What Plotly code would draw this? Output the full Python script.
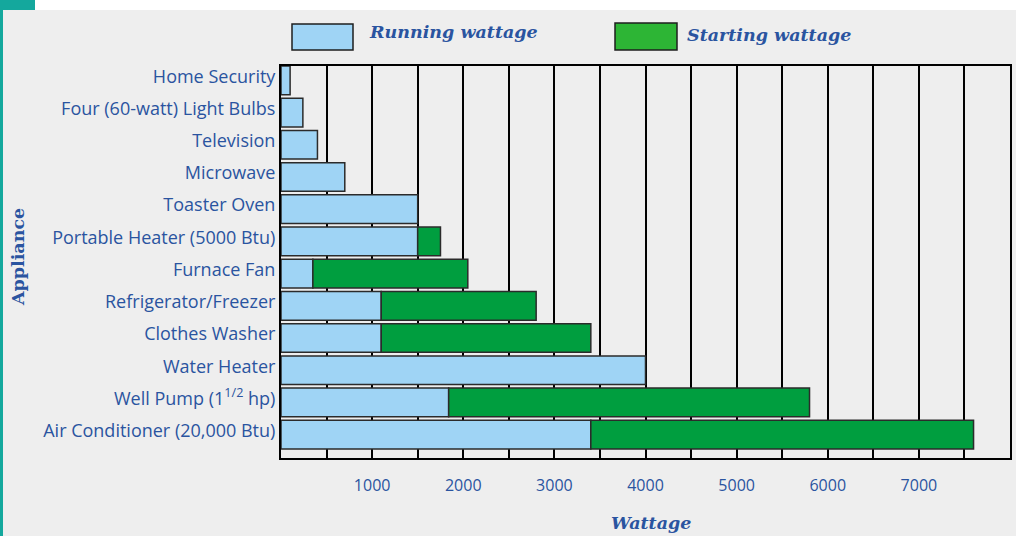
import plotly.graph_objects as go

# ---- data ----
appliances = [
    "Air Conditioner (20,000 Btu)",
    "Well Pump (1<sup>1/2</sup> hp)",
    "Water Heater",
    "Clothes Washer",
    "Refrigerator/Freezer",
    "Furnace Fan",
    "Portable Heater (5000 Btu)",
    "Toaster Oven",
    "Microwave",
    "Television",
    "Four (60-watt) Light Bulbs",
    "Home Security",
]
running_watts = [3400, 1840, 4000, 1100, 1100, 350, 1500, 1500, 700, 400, 240, 100]
starting_watts = [7600, 5800, 4000, 3400, 2800, 2050, 1750, 1500, 700, 400, 240, 100]
x_tick_values = [1000, 2000, 3000, 4000, 5000, 6000, 7000]
x_tick_labels = ["1000", "2000", "3000", "4000", "5000", "6000", "7000"]
grid_step = 500

# ---- geometry helpers (pixel -> paper) ----
W, H = 1024, 536
L, R, T, B = 281, 1010, 66, 458


def px(x):
    return (x - L) / (R - L)


def py(y):
    return (B - y) / (B - T)


TEXT = "#2a54a0"
BLUE = "#9fd4f5"
GREEN = "#009e3f"

extra = [s - r if s > r else None for s, r in zip(starting_watts, running_watts)]

fig = go.Figure()
fig.add_trace(go.Bar(
    y=appliances, x=running_watts, orientation="h", name="Running wattage",
    marker=dict(color=BLUE, line=dict(color="#2b2b2b", width=1.5)),
))
fig.add_trace(go.Bar(
    y=appliances, x=extra, base=running_watts, orientation="h", name="Starting wattage",
    marker=dict(color=GREEN, line=dict(color="#2b2b2b", width=1.5)),
))

minor_vals = [v for v in range(grid_step, 8000, grid_step) if v not in x_tick_values]

shapes = [
    # outer bands
    dict(type="rect", xref="paper", yref="paper", x0=px(0), x1=px(W), y0=py(0), y1=py(10),
         fillcolor="white", line=dict(width=0), layer="below"),
    dict(type="rect", xref="paper", yref="paper", x0=px(1016), x1=px(W), y0=py(0), y1=py(H),
         fillcolor="white", line=dict(width=0), layer="below"),
    dict(type="rect", xref="paper", yref="paper", x0=px(0), x1=px(35), y0=py(0), y1=py(10),
         fillcolor="#14a89d", line=dict(width=0), layer="below"),
    dict(type="rect", xref="paper", yref="paper", x0=px(0), x1=px(3), y0=py(10), y1=py(H),
         fillcolor="#14a89d", line=dict(width=0), layer="below"),
    # legend swatches
    dict(type="rect", xref="paper", yref="paper", x0=px(292), x1=px(353), y0=py(50), y1=py(24),
         fillcolor=BLUE, line=dict(color="#1e1e1e", width=1.5)),
    dict(type="rect", xref="paper", yref="paper", x0=px(615), x1=px(677), y0=py(50), y1=py(23),
         fillcolor="#2db535", line=dict(color="#1e1e1e", width=1.5)),
]

serif_bi = dict(family="DejaVu Serif", size=17.5, color=TEXT, weight="bold", style="italic")
annotations = [
    dict(text="Running wattage", x=px(367), y=py(32), xref="paper", yref="paper",
         xanchor="left", yanchor="middle", showarrow=False, font=serif_bi),
    dict(text="Starting wattage", x=px(685), y=py(35), xref="paper", yref="paper",
         xanchor="left", yanchor="middle", showarrow=False, font=serif_bi),
    dict(text="Wattage", x=px(651), y=py(523), xref="paper", yref="paper",
         xanchor="center", yanchor="middle", showarrow=False, font=serif_bi),
    dict(text="Appliance", x=px(18), y=py(257), xref="paper", yref="paper",
         xanchor="center", yanchor="middle", showarrow=False, textangle=-90,
         font=dict(family="DejaVu Serif", size=17.5, color=TEXT, weight="bold")),
]

fig.update_layout(
    width=W, height=H, autosize=False,
    margin=dict(l=L, r=W - R, t=T, b=H - B, pad=0),
    paper_bgcolor="#eeeeee", plot_bgcolor="#eeeeee",
    barmode="overlay", bargap=0.11, showlegend=False,
    shapes=shapes, annotations=annotations,
    font=dict(family="Open Sans", size=18, color=TEXT),
)
fig.update_xaxes(
    range=[0, 8000], tickmode="array", tickvals=x_tick_values, ticktext=x_tick_labels,
    showgrid=True, gridcolor="black", gridwidth=2, zeroline=False,
    showline=True, linecolor="black", linewidth=2, mirror=True,
    ticks="outside", ticklen=12, tickcolor="rgba(0,0,0,0)",
    tickfont=dict(family="Open Sans", size=16, color=TEXT),
    minor=dict(tickmode="array", tickvals=minor_vals, showgrid=True,
               gridcolor="black", gridwidth=2, ticks=""),
)
fig.update_yaxes(
    type="category", categoryorder="array", categoryarray=appliances,
    range=[-0.725, 11.445], showgrid=False, zeroline=False,
    showline=True, linecolor="black", linewidth=2, mirror=True,
    ticks="", ticklabelshift=-4, tickfont=dict(family="Open Sans", size=18, color=TEXT),
)

fig.write_html(
    "out.html",
    config={"displayModeBar": False},
    post_script="document.body.style.margin='0';document.body.style.overflow='hidden';",
)
